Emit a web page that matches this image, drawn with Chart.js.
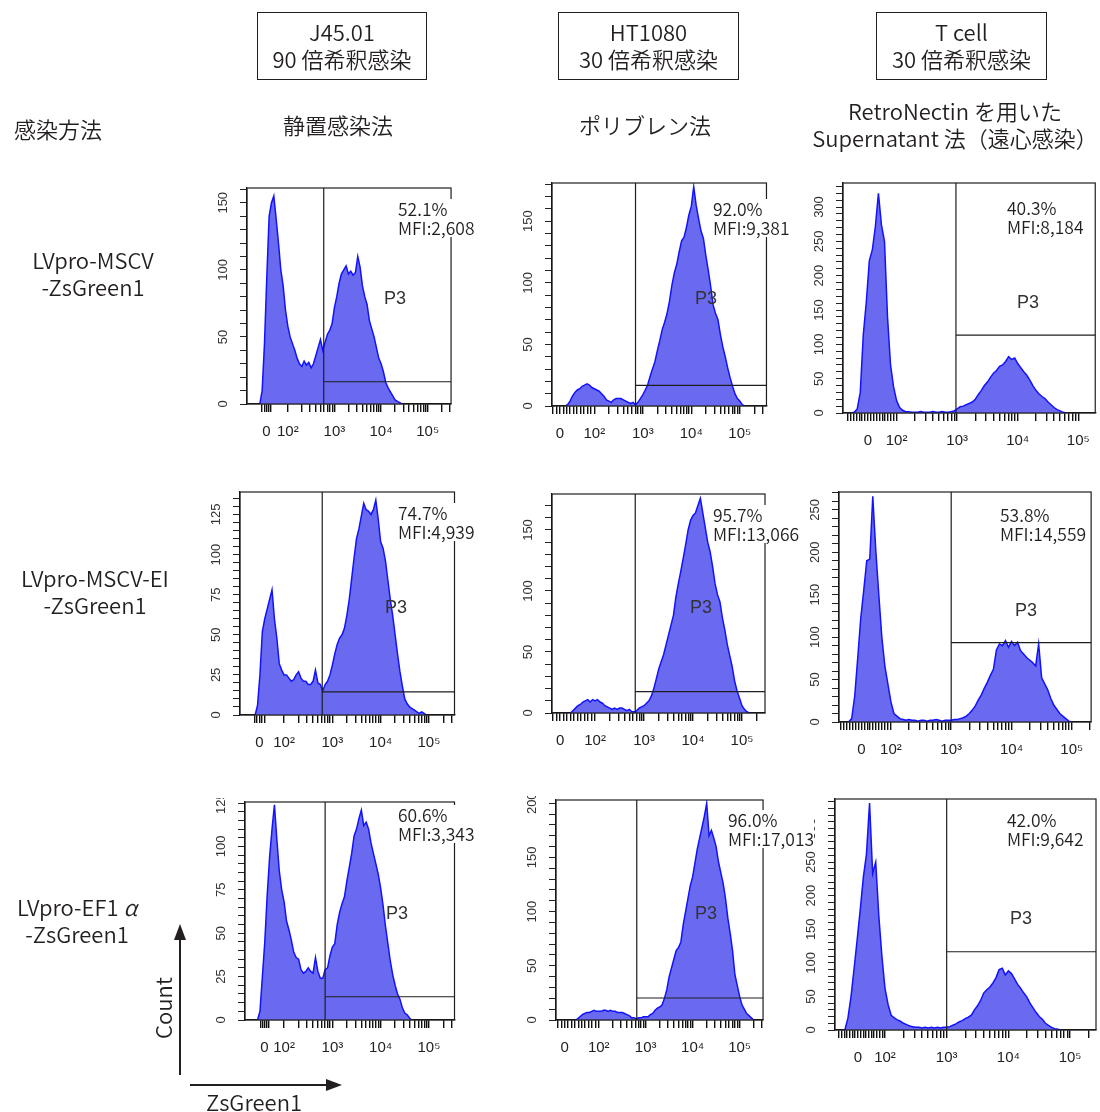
<!DOCTYPE html>
<html>
<head>
<meta charset="utf-8">
<script src="https://cdn.jsdelivr.net/npm/chart.js@4.4.1/dist/chart.umd.min.js"></script>
<style>
  body { margin: 0; background: #fff; width: 1100px; height: 1112px; position: relative; overflow: hidden;
         font-family: "Noto Sans CJK JP", "Noto Sans", sans-serif; font-weight: 350; color: #231f20; }
  canvas { position: absolute; }
  .t { position: absolute; white-space: nowrap; font-size: 22px; line-height: 27px; text-align: center;
       transform: translate(-50%, -50%); z-index: 2; }
  .hdr { position: absolute; border: 1.5px solid #231f20; text-align: center; font-size: 22px; line-height: 27px;
         box-sizing: border-box; padding-top: 5px; z-index: 2; }
  .stat { position: absolute; background: #fff; font-size: 17.5px; line-height: 19px; white-space: nowrap; z-index: 2; }
  .p3 { position: absolute; font-family: "Liberation Sans", sans-serif; font-size: 18px; color: #333;
        transform: translate(-50%, -50%); z-index: 2; }
</style>
</head>
<body>
<script>
// histogram bins along the display axis (10^k sits at k)
const binStep = 0.05;
const binStart = [1.40, 1.40, 1.25, 1.40, 1.50, 1.30, 1.45, 1.50, 1.35];

// counts, row by row: MSCV, MSCV-EI, EF1a ; columns J45.01, HT1080, T cell
const j45_mscv = [0,10,45,95,140,150,155,138,120,100,88,70,58,50,45,40,34,30,28,32,29,31,27,30,36,42,48,40,46,52,55,60,72,80,90,97,100,103,97,99,96,98,110,102,88,80,74,62,56,50,42,34,30,24,16,12,9,6,3,2,1,0];
const ht_mscv = [0,1,4,8,11,13,14,16,17,18,17,15,14,13,12,10,8,5,4,3,5,6,6,6,5,4,3,2,3,1,3,6,9,13,17,24,30,36,45,53,62,68,75,85,98,108,115,125,134,137,145,155,162,178,163,152,142,136,122,110,97,82,75,70,58,48,40,31,23,16,10,6,4,1,0];
const tcell_mscv = [0,1,6,30,114,162,222,238,272,320,274,250,140,70,38,18,8,4,2,2,1,1,1,2,1,1,1,2,1,1,2,1,1,2,3,6,9,10,12,14,16,20,27,33,40,45,52,58,62,68,70,75,82,78,80,72,66,60,55,48,40,33,28,24,21,16,12,8,5,3,1,0];
const j45_ei = [0,6,25,52,60,66,72,78,60,48,32,28,25,25,23,21,22,25,27,23,21,21,19,19,21,28,20,19,15,19,21,25,31,38,44,48,50,54,62,72,85,98,110,116,124,132,128,127,125,128,134,122,108,104,96,84,72,62,50,38,27,18,10,7,5,4,3,2,1,2,1,0];
const ht_ei = [0,2,4,6,7,9,10,11,9,11,10,11,9,8,6,5,4,3,4,3,4,4,3,2,3,1,1,2,4,5,6,8,10,14,20,28,36,42,48,56,64,72,80,95,106,116,127,138,150,158,162,164,170,176,164,152,140,132,120,106,97,91,78,68,56,47,38,26,18,12,6,3,1,0];
const tcell_ei = [0,4,30,75,122,155,190,192,266,202,150,100,66,45,24,10,7,4,3,2,3,2,2,1,2,2,1,2,2,3,2,1,2,2,2,3,3,4,5,7,10,14,19,26,32,40,47,55,62,85,92,90,96,88,95,90,94,84,80,76,73,70,66,92,52,45,38,28,20,15,10,7,4,1,0];
const j45_ef1a = [0,5,25,45,72,94,110,124,104,86,75,68,57,52,46,39,36,35,29,27,28,30,28,27,36,28,24,24,29,30,37,42,44,55,62,67,71,80,88,96,106,110,116,121,112,114,110,102,96,90,84,76,66,54,44,34,26,20,15,12,7,4,3,1,0];
const ht_ef1a = [0,1,3,5,6,7,7,8,9,8,8,8,9,9,8,9,8,8,7,7,7,6,5,4,2,2,1,2,2,3,3,3,5,6,9,11,12,14,20,28,40,48,56,64,67,72,88,100,112,124,132,145,158,168,178,188,200,170,175,168,160,146,136,126,112,94,80,64,42,32,22,14,10,6,4,2,0];
const tcell_ef1a = [0,18,50,92,135,180,228,262,338,233,250,170,110,62,38,22,18,15,13,10,8,6,5,4,4,3,4,3,4,3,4,3,4,4,5,7,9,12,14,17,19,22,30,36,44,55,60,64,70,78,90,92,82,88,84,76,68,62,55,49,40,33,26,20,16,10,7,4,2,1,0];
const counts = [j45_mscv, ht_mscv, tcell_mscv, j45_ei, ht_ei, tcell_ei, j45_ef1a, ht_ef1a, tcell_ef1a];

// P3 gates: vertical threshold on the display axis, horizontal marker in counts
const gateU = [2.77, 2.85, 2.98, 2.79, 2.82, 3.00, 2.85, 2.81, 3.00];
const gateCount = [16.6, 16.7, 113.5, 14.4, 17.5, 93.5, 13.4, 20.3, 116.5];

const pct = ["52.1%", "92.0%", "40.3%", "74.7%", "95.7%", "53.8%", "60.6%", "96.0%", "42.0%"];
const mfi = ["MFI:2,608", "MFI:9,381", "MFI:8,184", "MFI:4,939", "MFI:13,066", "MFI:14,559", "MFI:3,343", "MFI:17,013", "MFI:9,642"];

// axis ticks
const decadeLabels = ["10²", "10³", "10⁴", "10⁵"];
const linTicks = [
  [-20, -10, 0, 10, 20],
  [-30, -20, -10, 0, 10, 20, 30, 40, 50, 60, 70, 80, 90],
  [-70, -60, -50, -40, -30, -20, -10, 0, 10, 20, 30, 40, 50, 60, 70, 80, 90]
];
const yMax = [161, 181, 335, 139, 179.5, 271, 125.6, 203, 344];
const yStep = [10, 10, 10, 5, 10, 10, 5, 10, 10];
const yLabelStep = [50, 50, 50, 25, 50, 50, 25, 50, 50];

// layout: plot box in page px, x-axis range, where "0" sits
const box = [
  { L: 247, T: 188, R: 457, B: 404, uMin: 1.125, uMax: 5.50, u0: 1.54 },
  { L: 552, T: 183, R: 770, B: 406, uMin: 1.128, uMax: 5.55, u0: 1.29 },
  { L: 843, T: 183, R: 1097, B: 413, uMin: 1.115, uMax: 5.28, u0: 1.525 },
  { L: 240, T: 492, R: 459, B: 715, uMin: 1.087, uMax: 5.53, u0: 1.49 },
  { L: 552, T: 494, R: 765, B: 713, uMin: 1.12, uMax: 5.47, u0: 1.286 },
  { L: 839, T: 492, R: 1097, B: 722, uMin: 1.14, uMax: 5.32, u0: 1.51 },
  { L: 245, T: 802, R: 459, B: 1020, uMin: 1.19, uMax: 5.53, u0: 1.59 },
  { L: 556, T: 800, R: 769, B: 1020, uMin: 1.09, uMax: 5.50, u0: 1.275 },
  { L: 835, T: 799, R: 1096, B: 1030, uMin: 1.19, uMax: 5.42, u0: 1.56 }
];
const statPos = [[398,199],[713,199],[1007,198],[398,503],[713,505],[1000,505],[398,805],[728,810],[1007,810]];
const p3Pos = [[395,298],[706,298],[1028,302],[396,607],[701,607],[1026,610],[397,913],[706,913],[1021,918]];

Chart.defaults.font.family = "'Liberation Sans', 'DejaVu Sans', sans-serif";

const facsBox = {
  id: "facsBox",
  afterDatasetsDraw(chart, args, o) {
    const { ctx, chartArea: a, scales: { x, y } } = chart;
    const gx = x.getPixelForValue(o.gateU);
    const gy = y.getPixelForValue(o.gateCount);
    ctx.save();
    ctx.strokeStyle = "#1e1e1e";
    ctx.lineWidth = 1.2;
    ctx.beginPath();
    ctx.moveTo(gx, a.top); ctx.lineTo(gx, a.bottom);
    ctx.moveTo(gx, gy); ctx.lineTo(a.right, gy);
    ctx.stroke();
    ctx.strokeRect(a.left, a.top, a.right - a.left, a.bottom - a.top);
    ctx.restore();
  },
  afterDraw(chart, args, o) {
    const { ctx, chartArea: a, scales: { y } } = chart;
    ctx.save();
    ctx.fillStyle = "#333";
    ctx.font = "13px 'Liberation Sans', sans-serif";
    ctx.textAlign = "center";
    ctx.textBaseline = "middle";
    for (let v = 0; v <= o.yMax; v += o.labelStep) {
      ctx.save();
      ctx.translate(a.left - 24, y.getPixelForValue(v));
      ctx.rotate(-Math.PI / 2);
      ctx.fillText(String(v), 0, 0);
      ctx.restore();
    }
    ctx.restore();
  }
};

function xTicks(p) {
  const b = box[p];
  const out = [];
  linTicks[p % 3].forEach(v => {
    out.push({ value: b.u0 + v / 100 * (2 - b.u0), lbl: v === 0 ? "0" : "" });
  });
  for (let k = 2; k <= 5; k++) {
    for (let m = 1; m <= 9; m++) {
      out.push({ value: k + Math.log10(m), lbl: m === 1 ? decadeLabels[k - 2] : "" });
    }
  }
  return out.filter(t => t.value >= b.uMin && t.value <= b.uMax);
}

counts.forEach((series, p) => {
  const b = box[p];
  const cv = document.createElement("canvas");
  const w = b.R - b.L + 44, h = b.B - b.T + 44;
  cv.width = w; cv.height = h;
  cv.style.left = (b.L - 40) + "px";
  cv.style.top = (b.T - 4) + "px";
  document.body.appendChild(cv);

  new Chart(cv, {
    type: "line",
    data: {
      datasets: [{
        data: series.map((c, i) => ({ x: binStart[p] + i * binStep, y: c })),
        fill: "origin",
        backgroundColor: "rgb(106,106,240)",
        borderColor: "rgb(18,18,255)",
        borderWidth: 1.5,
        pointRadius: 0,
        tension: 0
      }]
    },
    options: {
      responsive: false,
      animation: false,
      layout: { autoPadding: false, padding: { top: 4, right: 4, left: 0, bottom: 0 } },
      plugins: {
        legend: { display: false },
        tooltip: { enabled: false },
        facsBox: { gateU: gateU[p], gateCount: gateCount[p], yMax: yMax[p], labelStep: yLabelStep[p] }
      },
      scales: {
        x: {
          type: "linear",
          min: b.uMin,
          max: b.uMax,
          afterBuildTicks: s => { s.ticks = xTicks(p); },
          afterFit: s => { s.height = 40; },
          grid: { drawOnChartArea: false, tickLength: 8, color: "#111", lineWidth: 1.4 },
          border: { color: "#111", width: 1.2 },
          ticks: {
            autoSkip: false, maxRotation: 0, minRotation: 0, padding: 11,
            color: "#222", font: { size: 15 },
            callback: (v, i, ticks) => ticks[i].lbl || ""
          }
        },
        y: {
          min: 0,
          max: yMax[p],
          afterFit: s => { s.width = 40; },
          grid: { drawOnChartArea: false, tickLength: 7, color: "#222" },
          border: { color: "#111", width: 1.2 },
          ticks: { display: false, stepSize: yStep[p], includeBounds: false }
        }
      }
    },
    plugins: [facsBox]
  });

  const st = document.createElement("div");
  st.className = "stat";
  st.style.left = statPos[p][0] + "px";
  st.style.top = statPos[p][1] + "px";
  st.innerHTML = pct[p] + "<br>" + mfi[p];
  document.body.appendChild(st);

  const g = document.createElement("div");
  g.className = "p3";
  g.style.left = p3Pos[p][0] + "px";
  g.style.top = p3Pos[p][1] + "px";
  g.textContent = "P3";
  document.body.appendChild(g);
});
</script>

<div class="hdr" style="left:257px;top:12px;width:170px;height:68px;">J45.01<br>90 倍希釈感染</div>
<div class="hdr" style="left:558px;top:12px;width:181px;height:68px;">HT1080<br>30 倍希釈感染</div>
<div class="hdr" style="left:876px;top:12px;width:171px;height:68px;">T cell<br>30 倍希釈感染</div>

<div class="t" style="left:58px;top:128px;">感染方法</div>
<div class="t" style="left:338px;top:124px;">静置感染法</div>
<div class="t" style="left:645px;top:124px;">ポリブレン法</div>
<div class="t" style="left:955px;top:124px;">RetroNectin を用いた<br>Supernatant 法（遠心感染）</div>

<div class="t" style="left:93px;top:273px;">LVpro-MSCV<br>-ZsGreen1</div>
<div class="t" style="left:95px;top:591px;">LVpro-MSCV-EI<br>-ZsGreen1</div>
<div class="t" style="left:77px;top:920px;">LVpro-EF1 <i>α</i><br>-ZsGreen1</div>

<svg style="position:absolute;left:0;top:0;z-index:1" width="1100" height="1112">
  <line x1="180" y1="1075" x2="180" y2="935" stroke="#231f20" stroke-width="2"/>
  <polygon points="180,924 174,940 186,940" fill="#231f20"/>
  <line x1="190" y1="1085" x2="330" y2="1085" stroke="#231f20" stroke-width="2"/>
  <polygon points="342,1085 326,1079 326,1091" fill="#231f20"/>
</svg>
<div class="t" style="left:162px;top:1008px;transform:translate(-50%,-50%) rotate(-90deg);">Count</div>
<div class="t" style="left:254px;top:1101px;">ZsGreen1</div>
</body>
</html>
